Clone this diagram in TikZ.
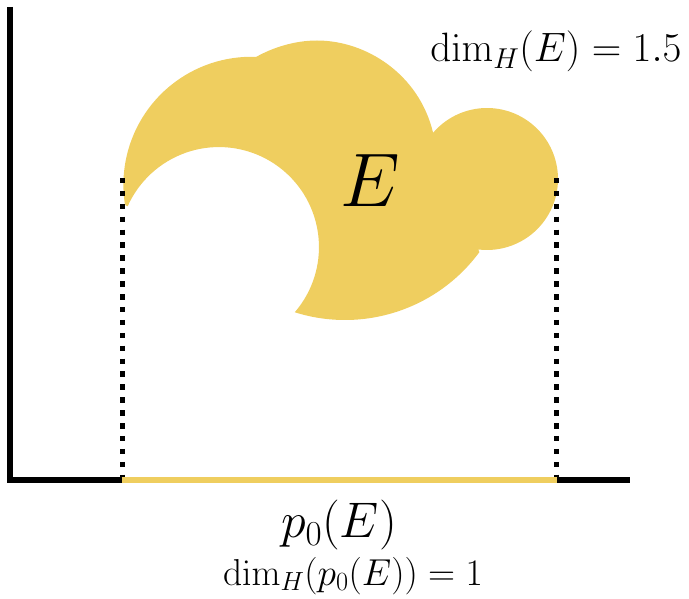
\RequirePackage{fix-cm}
\documentclass[tikz,border=0pt]{standalone}
\definecolor{setyellow}{RGB}{239,206,95}
\begin{document}
\begin{tikzpicture}[x=1pt,y=1pt,
  axisline/.style={line width=6pt, black, line join=miter},
  projbar/.style={line width=6pt, setyellow},
  projline/.style={line width=5.5pt, black, dash pattern=on 5.5pt off 7.4pt},
  lbl/.style={inner sep=0pt, anchor=base}]
\useasboundingbox (0,0) rectangle (689,598);
% the set E
\fill[setyellow] (125,393) arc[start angle=189.1,end angle=87.8,radius=128]
  .. controls (272,550) and (294,557.5) .. (317,557.5)
  .. controls (366,557.5) and (419,524) .. (433.1,465.2)
  arc[start angle=139.4,end angle=-97.1,radius=71]
  -- (479.4,345.9) arc[start angle=-36.4,end angle=-107.5,radius=167]
  arc[start angle=-40.7,end angle=155.9,radius=100]
  -- cycle;
% axes
\coordinate (ytop) at (9.7,591);
\coordinate (origin) at (9.7,117.7);
\coordinate (xend) at (630,117.7);
\coordinate (pl) at (121.7,117.7);
\coordinate (pr) at (557.3,117.7);
\coordinate (dl) at (122.3,420);
\coordinate (dr) at (556.7,420);
\coordinate (dlb) at (122.3,120.7);
\coordinate (drb) at (556.7,120.7);
\draw[axisline] (ytop) -- (origin) -- (xend);
\draw[projbar] (pl) -- (pr);
\draw[projline] (dl) -- (dlb);
\draw[projline] (dr) -- (drb);
% labels
\node[lbl, font=\fontsize{41}{49}\selectfont] (dimE) at (556,536) {$\dim_H(E) = 1.5$};
\node[lbl, font=\fontsize{76}{90}\selectfont] (Elbl) at (370,391) {$E$};
\node[lbl, font=\fontsize{50}{60}\selectfont] (p0E) at (339,60) {$p_0(E)$};
\node[lbl, font=\fontsize{37.5}{45}\selectfont] (dimp) at (353,13) {$\dim_H(p_0(E)) = 1$};
\end{tikzpicture}
\end{document}
